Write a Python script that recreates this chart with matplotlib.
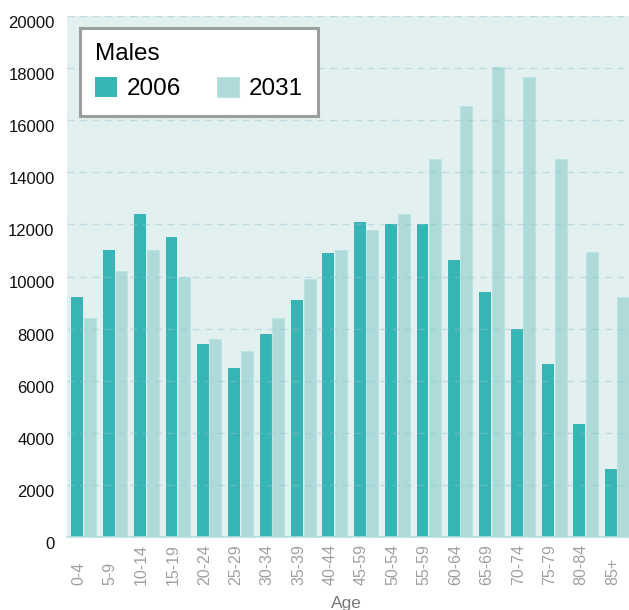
import numpy as np
import matplotlib
matplotlib.use('Agg')
from matplotlib import pyplot as plt

# male population by age group
ages = ['0-4', '5-9', '10-14', '15-19', '20-24', '25-29', '30-34', '35-39',
        '40-44', '45-59', '50-54', '55-59', '60-64', '65-69', '70-74',
        '75-79', '80-84', '85+']
males_2006 = [9200, 11000, 12400, 11500, 7400, 6500, 7800, 9100, 10900,
              12100, 12000, 12000, 10650, 9400, 8000, 6650, 4350, 2600]
males_2031 = [8400, 10200, 11000, 10000, 7600, 7150, 8400, 9900, 11000,
              11800, 12400, 14500, 16550, 18050, 17650, 14500, 10950, 9200]
yticks = [0, 2000, 4000, 6000, 8000, 10000, 12000, 14000, 16000, 18000, 20000]

plt.rcParams['font.family'] = ['Liberation Sans', 'DejaVu Sans']

fig = plt.figure(figsize=(6.29, 6.10), dpi=100)
ax = fig.add_axes([67/629, 1 - 537/610, 562/629, 521/610])
ax.set_facecolor('#e2f0f0')

x = np.arange(len(ages))
w = 0.38
ax.bar(x - 0.2, males_2006, w, color='#37b5b5', label='2006', zorder=1)
ax.bar(x + 0.2, males_2031, w, color='#aedbd9', edgecolor='#bfe3e0',
       linewidth=0.8, label='2031', zorder=1)

ax.set_ylim(0, 20000)
ax.set_xlim(-0.53, 17.38)
ax.set_yticks(yticks)
ax.set_yticklabels([str(v) for v in yticks], fontsize=12, color='#111111',
                   va='top')
ax.yaxis.grid(True, color='#8ec4cf', alpha=0.45, linestyle=(0, (5, 4)),
              linewidth=1.0, zorder=3)
ax.set_axisbelow(False)

ax.set_xticks(x - 0.15)
ax.set_xticklabels(ages, rotation=90, fontsize=11.5, color='#a0a0a0', va='bottom')
ax.tick_params(axis='x', length=0, pad=34.5)
ax.tick_params(axis='y', length=0, pad=9)

for s in ['top', 'right', 'left']:
    ax.spines[s].set_visible(False)
ax.spines['bottom'].set_color('#b5e0dd')
ax.spines['bottom'].set_linewidth(1.2)

ax.set_xlabel('Age', fontsize=12.5, color='#777777', va='baseline')
ax.xaxis.set_label_coords(0.497, -0.136)

leg = ax.legend(loc='upper left', bbox_to_anchor=(0.023, 0.977), ncol=2,
                title='Males', fontsize=17.5, title_fontsize=17.5,
                alignment='left', handlelength=0.9, handleheight=0.87,
                handletextpad=0.4, columnspacing=1.5, borderpad=0.62,
                labelspacing=0.5, fancybox=False, framealpha=1.0,
                borderaxespad=0)
leg.get_frame().set_edgecolor('#9a9e9c')
leg.get_frame().set_linewidth(2.2)
leg.set_zorder(5)

fig.savefig('out.png', dpi=100)
